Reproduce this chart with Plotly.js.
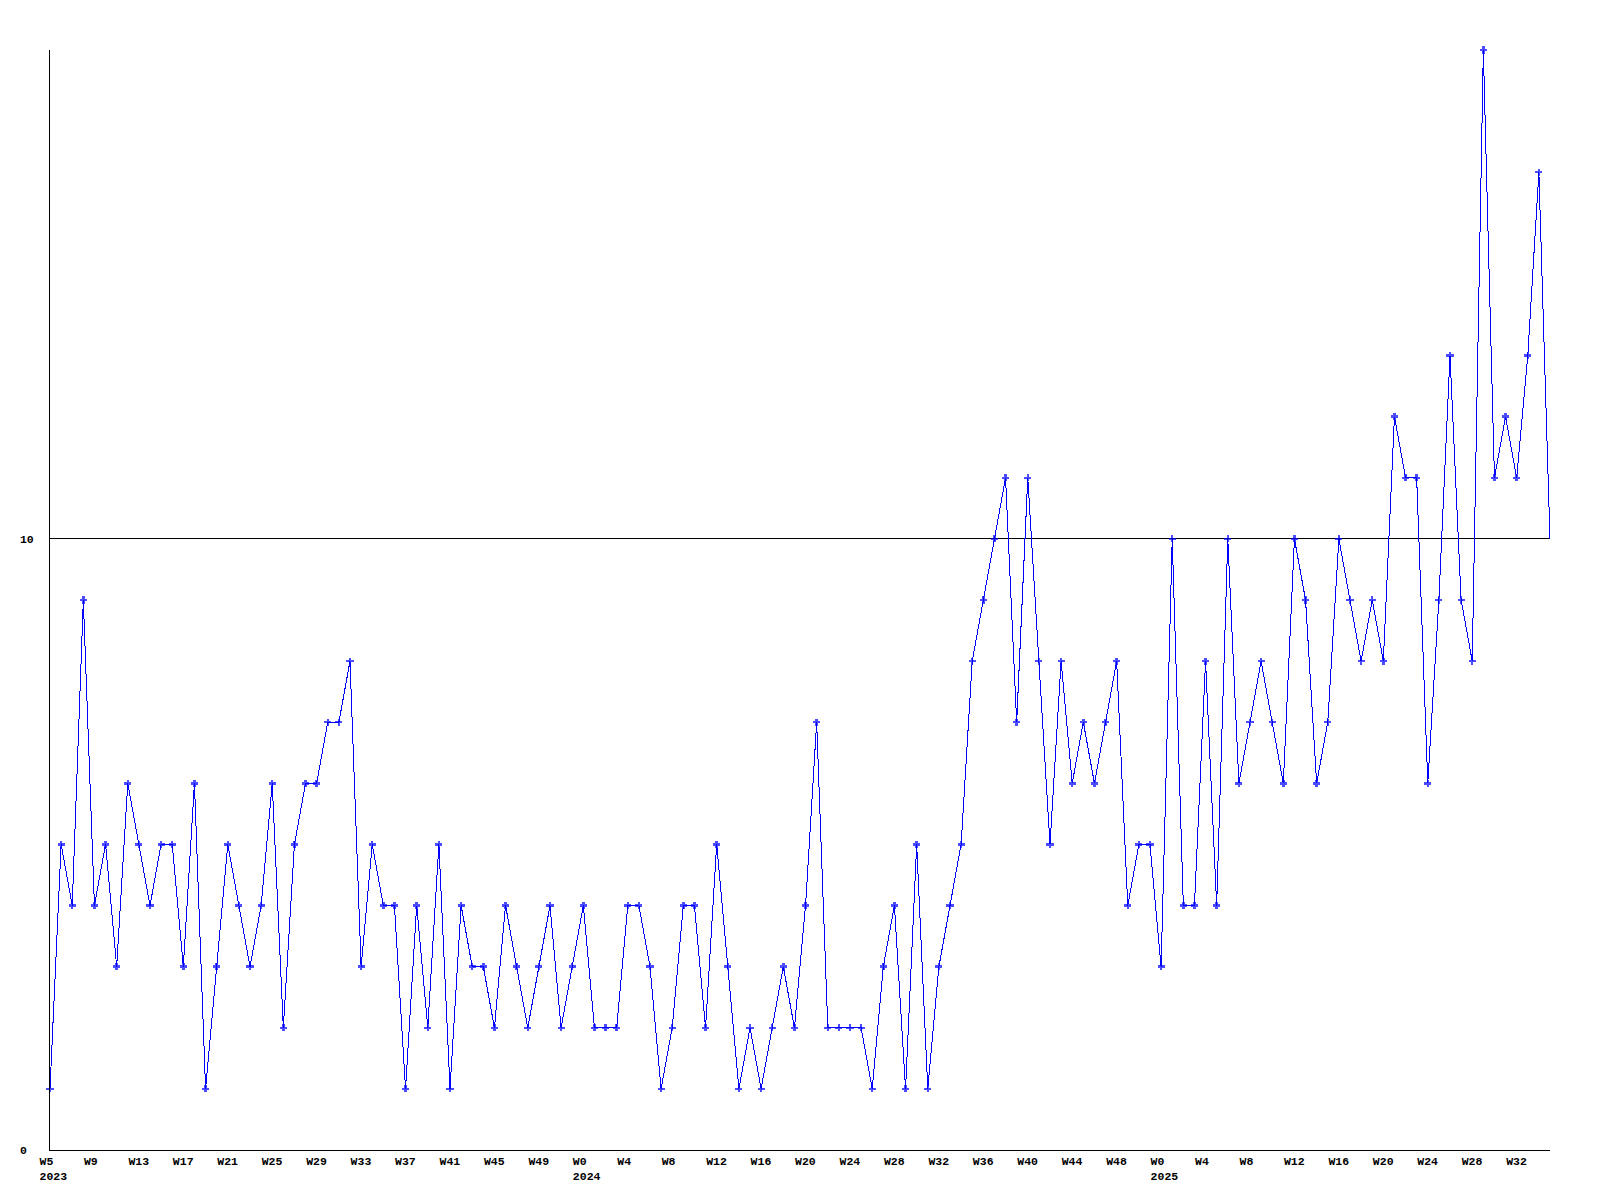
<!DOCTYPE html>
<html>
<head>
<meta charset="utf-8">
<script src="https://cdn.plot.ly/plotly-3.0.1.min.js"></script>
<style>
html,body{margin:0;padding:0;background:#fff;}
#chart{width:1600px;height:1200px;}
#chart .scatterlayer path{shape-rendering:crispEdges;}
#chart .xlines-above, #chart .ylines-above, #chart .gridlayer path{shape-rendering:crispEdges;}
</style>
</head>
<body>
<div id="chart"></div>
<script>
// Weekly counts, one value per week, starting at W5 2023
const weeklyCounts = [
  1,5,4,9,4,5,3,6,5,4,
  5,5,3,6,1,3,5,4,3,4,
  6,2,5,6,6,7,7,8,3,5,
  4,4,1,4,2,5,1,4,3,3,
  2,4,3,2,3,4,2,3,4,2,
  2,2,4,4,3,1,2,4,4,2,
  5,3,1,2,1,2,3,2,4,7,
  2,2,2,2,1,3,4,1,5,1,
  3,4,5,8,9,10,11,7,11,8,
  5,8,6,7,6,7,8,4,5,5,
  3,10,4,4,8,4,10,6,7,8,
  7,6,10,9,6,7,10,9,8,9,
  8,12,11,11,6,9,13,9,8,18,
  11,12,11,13,16,10
];

// Tick labels, one every 4 weeks
const tickWeeks = [
  'W5','W9','W13','W17','W21','W25','W29','W33','W37','W41','W45','W49',
  'W0','W4','W8','W12','W16','W20','W24','W28','W32','W36','W40','W44','W48',
  'W0','W4','W8','W12','W16','W20','W24','W28','W32'
];
const tickYears = [
  '2023','','','','','','','','','','','',
  '2024','','','','','','','','','','','','',
  '2025','','','','','','','',''
];
const yTickValues = [0, 10];
const yTickLabels = ['0\u00a0', '10'];

const TICK_STEP = 4;
const xIdx = weeklyCounts.map((_, i) => i);
const tickvals = tickWeeks.map((_, k) => k * TICK_STEP);
const ticktext = tickWeeks.map((w, k) => tickYears[k] ? w + '<br>' + tickYears[k] : w);
const markerSizes = weeklyCounts.map((_, i) => i === weeklyCounts.length - 1 ? 0 : 6);

const font = {family: 'Liberation Mono, DejaVu Sans Mono, monospace', size: 11.5, color: '#000', weight: 'bold'};

Plotly.newPlot('chart', [{
  type: 'scatter',
  mode: 'lines+markers',
  x: xIdx,
  y: weeklyCounts,
  line: {color: '#0000ff', width: 1},
  marker: {symbol: 'cross', size: markerSizes, color: '#0000ff', line: {width: 0}},
  cliponaxis: false,
  hoverinfo: 'skip'
}], {
  width: 1600,
  height: 1200,
  margin: {l: 50, r: 50, t: 50, b: 50},
  paper_bgcolor: '#fff',
  plot_bgcolor: '#fff',
  showlegend: false,
  xaxis: {
    range: [0, weeklyCounts.length - 1],
    showline: true, linecolor: '#000', linewidth: 1,
    showgrid: false, zeroline: false,
    tickmode: 'array', tickvals: tickvals, ticktext: ticktext,
    ticks: '',
    ticklabelposition: 'outside right',
    ticklabelshift: -11,
    tickfont: font
  },
  yaxis: {
    range: [0, 18],
    showline: true, linecolor: '#000', linewidth: 1,
    showgrid: true, gridcolor: '#000', gridwidth: 1,
    zeroline: false,
    tickmode: 'array', tickvals: yTickValues, ticktext: yTickLabels,
    ticks: '',
    ticklabelstandoff: 13,
    tickfont: font
  }
}, {displayModeBar: false, staticPlot: true});
</script>
</body>
</html>
